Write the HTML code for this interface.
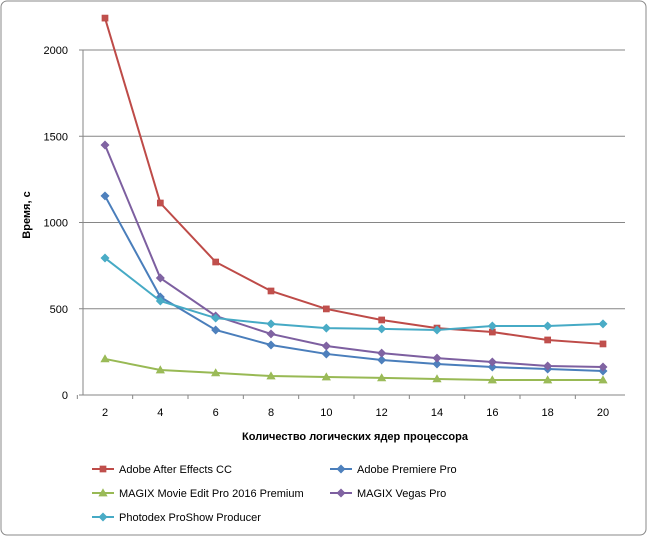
<!DOCTYPE html>
<html><head><meta charset="utf-8"><style>
body{margin:0;background:#fff;font-family:"Liberation Sans",sans-serif;}
svg text{font-family:"Liberation Sans",sans-serif;font-size:11px;fill:#000}
</style></head><body>
<svg id="chart" width="648" height="537">
<rect x="1" y="1" width="645" height="534" rx="6" fill="#fff" stroke="#888"/>
<g id="grid"></g><g id="axes"></g><g id="series"></g><g id="legend"></g>
<text x="30" y="215" transform="rotate(-90 30 215)" text-anchor="middle" font-weight="bold">Время, с</text>
<text x="355" y="440" text-anchor="middle" font-weight="bold">Количество  логических  ядер процессора</text>
</svg>
<script>
const categories=[2,4,6,8,10,12,14,16,18,20];
const yTicks=[0,500,1000,1500,2000];
const aeValues=[2185,1113,771,603,499,435,388,365,319,296];
const premiereValues=[1154,568,377,290,238,203,180,162,151,139];
const movieEditValues=[209,145,128,110,104,99,93,87,87,87];
const vegasValues=[1449,678,458,354,284,243,214,191,168,162];
const proshowValues=[794,545,446,412,388,383,377,400,400,412];
const seriesNames=["Adobe After Effects CC","Adobe Premiere Pro","MAGIX Movie Edit Pro 2016 Premium","MAGIX Vegas Pro","Photodex ProShow Producer"];
const NS="http://www.w3.org/2000/svg";
const X0=83,X1=625,Y0=395,Yscale=345/2000;
const XF=105,XL=603;
const xs=i=>XF+(XL-XF)*i/(categories.length-1);
const ys=v=>Y0-v*Yscale;
function mk(tag,attrs,parent){const e=document.createElementNS(NS,tag);for(const k in attrs)e.setAttribute(k,attrs[k]);parent.appendChild(e);return e;}
const grid=document.getElementById('grid'),axes=document.getElementById('axes'),ser=document.getElementById('series'),leg=document.getElementById('legend');
yTicks.forEach(t=>{
 if(t>0){const g=mk('line',{x1:X0,x2:X1,y1:ys(t),y2:ys(t),stroke:'#868686'},grid);
 
 }
 const l=mk('text',{x:68,y:ys(t)+4,'text-anchor':'end'},axes);l.textContent=t;
 
 
 mk('line',{x1:X0-4,x2:X0,y1:ys(t),y2:ys(t),stroke:'#868686'},axes);
});
mk('line',{x1:X0,x2:X0,y1:50,y2:Y0,stroke:'#868686'},axes);
mk('line',{x1:X0,x2:X1,y1:Y0,y2:Y0,stroke:'#868686'},axes);
categories.forEach((c,i)=>{
 const l=mk('text',{x:xs(i),y:416,'text-anchor':'middle'},axes);l.textContent=c;
 
 
 const bx=xs(i)-(XL-XF)/(categories.length-1)/2;mk('line',{x1:bx,x2:bx,y1:Y0,y2:Y0+4,stroke:'#868686'},axes);
});
function marker(shape,x,y,fill,stroke,p){
 if(shape==='sq')return mk('rect',{x:x-3,y:y-3,width:6,height:6,fill:fill,stroke:stroke,'stroke-width':0.7},p);
 if(shape==='di')return mk('polygon',{points:`${x},${y-4} ${x+4},${y} ${x},${y+4} ${x-4},${y}`,fill:fill,stroke:stroke,'stroke-width':0.7},p);
 return mk('polygon',{points:`${x},${y-4} ${x+4},${y+3} ${x-4},${y+3}`,fill:fill,stroke:stroke,'stroke-width':0.7},p);
}
const defs=[[aeValues,'#be4b48','#c0504d','sq'],[premiereValues,'#4a7ebb','#4f81bd','di'],[movieEditValues,'#98b954','#9bbb59','tr'],[vegasValues,'#7d5fa0','#8064a2','di'],[proshowValues,'#46aac5','#4bacc6','di']];
const slugs=['after-effects','premiere-pro','movie-edit-pro','vegas-pro','proshow-producer'];
defs.forEach((d,k)=>{
 const g=mk('g',{},ser);
 
 
 const pl=mk('polyline',{points:d[0].map((v,i)=>xs(i)+','+ys(v)).join(' '),fill:'none',stroke:d[1],'stroke-width':2},g);
 
 
 d[0].forEach((v,i)=>{const m=marker(d[3],xs(i),ys(v),d[2],d[1],g);
 
 });
 const lx=k%2===0?92:330,ly=469+Math.floor(k/2)*24;
 const lg=mk('g',{},leg);
 
 
 mk('line',{x1:lx,x2:lx+22,y1:ly,y2:ly,stroke:d[1],'stroke-width':2},lg);
 marker(d[3],lx+11,ly,d[2],d[1],lg);
 const t=mk('text',{x:lx+27,y:ly+4},lg);t.textContent=seriesNames[k];
});
</script>
</body></html>
